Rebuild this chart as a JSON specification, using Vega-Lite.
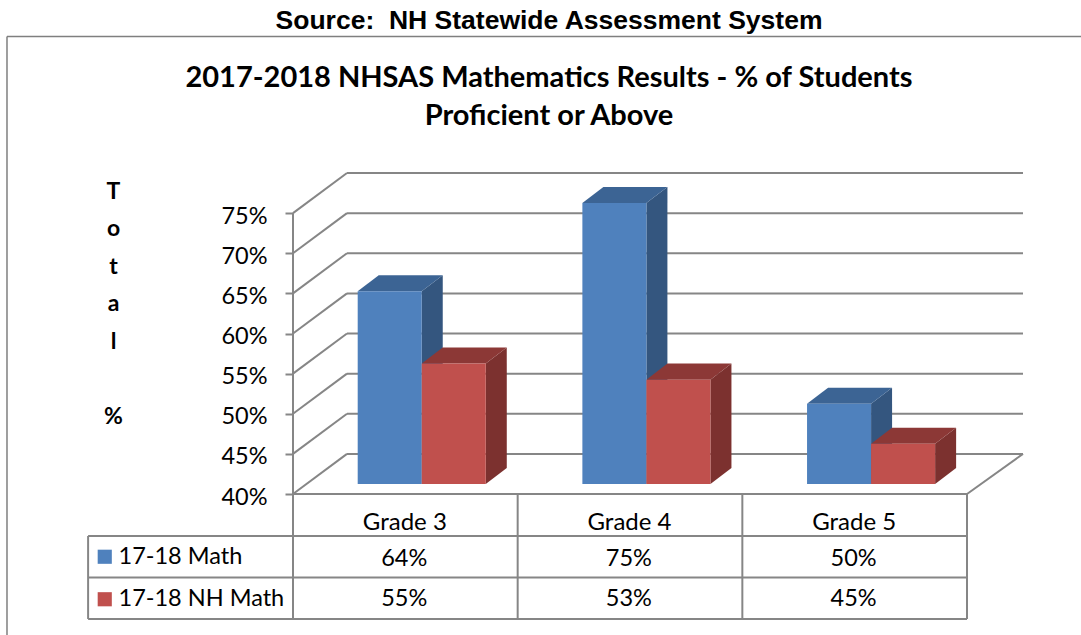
{
"$schema":"https://vega.github.io/schema/vega-lite/v6.json",
"autosize":{"type":"none"},
"padding":{"left":293,"top":173,"right":58,"bottom":141},
"width":730,"height":321,
"background":"white",
"view":{"stroke":null},
"title":{"text":"Source:\u00a0 NH Statewide Assessment System","subtitle":["2017-2018 NHSAS Mathematics Results - % of Students","Proficient or Above"],
"anchor":"start","align":"center","dx":256,"frame":"group","offset":-95,"font":"Liberation Sans","fontWeight":"bold","fontSize":26.5,"color":"#000000",
"subtitleFont":"Lato","subtitleFontWeight":"bold","subtitleFontSize":29,"subtitleColor":"#000000","subtitleLineHeight":38,"subtitlePadding":29},
"data":{"values":[
{"grade":"Grade 3","series":"17-18 Math","value":64},
{"grade":"Grade 3","series":"17-18 NH Math","value":55},
{"grade":"Grade 4","series":"17-18 Math","value":75},
{"grade":"Grade 4","series":"17-18 NH Math","value":53},
{"grade":"Grade 5","series":"17-18 Math","value":50},
{"grade":"Grade 5","series":"17-18 NH Math","value":45}
]},
"transform":[
{"calculate":"indexof(['Grade 3','Grade 4','Grade 5'],datum.grade)","as":"i"},
{"calculate":"datum.series==='17-18 Math'?0:1","as":"s"},
{"calculate":"datum.i+0.288+datum.s*0.285","as":"x0"},
{"calculate":"datum.x0+0.285","as":"x1"},
{"calculate":"datum.value+1.25","as":"top"},
{"calculate":"41.25","as":"base"}
],
"layer":[
{"data":{"values":[{"v":40},{"v":45},{"v":50},{"v":55},{"v":60},{"v":65},{"v":70},{"v":75}]},
"transform":[{"calculate":"datum.v+5","as":"back"}],
"mark":{"type":"rule","color":"#868686","strokeWidth":2},
"encoding":{"x":{"datum":0,"type":"quantitative","scale":{"domain":[0,3.2492],"nice":false,"zero":false},
"axis":{"values":[0.5,1.5,2.5],"labelExpr":"'Grade '+(datum.value+2.5)","title":null,"domain":false,"ticks":false,"grid":false,"labelFont":"Lato","labelFontSize":24,"labelColor":"#000000","labelPadding":16,"labelOffset":-1,"labelFlush":false,"labelOverlap":false}},
"x2":{"datum":0.2403},
"y":{"field":"v","type":"quantitative","scale":{"domain":[40,80],"nice":false,"zero":false},
"axis":{"values":[40,45,50,55,60,65,70,75],"labelExpr":"datum.value+'%'","title":["T","o","t","a","l","\u2800","%"],"titleFont":"Lato","titleFontWeight":"bold","titleFontSize":23,"titleColor":"#000000","titleAngle":0,"titleLineHeight":37.5,"titleX":-180,"titleY":30,"titleAlign":"center","titleAnchor":"start","domain":false,"grid":false,"tickColor":"#868686","tickWidth":2,"tickSize":8,"labelPadding":18,"labelOffset":3,"labelFont":"Lato","labelFontSize":23.5,"labelColor":"#000000","labelBaseline":"middle"}},
"y2":{"field":"back"}}},
{"data":{"values":[{"v":45},{"v":50},{"v":55},{"v":60},{"v":65},{"v":70},{"v":75},{"v":80}]},
"mark":{"type":"rule","color":"#868686","strokeWidth":2},
"encoding":{"x":{"datum":0.2403,"type":"quantitative"},"x2":{"datum":3.2492},"y":{"field":"v","type":"quantitative"}}},
{"data":{"values":[{"c":"floor"}]},
"mark":{"type":"rule","color":"#868686","strokeWidth":2},
"encoding":{"x":{"datum":3,"type":"quantitative"},"x2":{"datum":3.2492},"y":{"datum":40,"type":"quantitative"},"y2":{"datum":45}}},
{"data":{"values":[{"c":"axis"}]},
"mark":{"type":"rule","color":"#868686","strokeWidth":2},
"encoding":{"x":{"datum":0,"type":"quantitative"},"y":{"datum":24.42,"type":"quantitative"},"y2":{"datum":75}}},
{"data":{"values":[{"k":1},{"k":2},{"k":3}]},
"mark":{"type":"rule","color":"#868686","strokeWidth":2},
"encoding":{"x":{"field":"k","type":"quantitative"},"y":{"datum":24.42,"type":"quantitative"},"y2":{"datum":40}}},
{"data":{"values":[{"r":34.77},{"r":29.6},{"r":24.42}]},
"mark":{"type":"rule","color":"#868686","strokeWidth":2},
"encoding":{"x":{"datum":-0.912,"type":"quantitative"},"x2":{"datum":3},"y":{"field":"r","type":"quantitative"}}},
{"data":{"values":[{"c":"rowhead"}]},
"mark":{"type":"rule","color":"#868686","strokeWidth":2},
"encoding":{"x":{"datum":-0.912,"type":"quantitative"},"y":{"datum":24.42,"type":"quantitative"},"y2":{"datum":34.77}}},
{"data":{"values":[{"c":"floorfront"}]},
"mark":{"type":"rule","color":"#868686","strokeWidth":2},
"encoding":{"x":{"datum":0,"type":"quantitative"},"x2":{"datum":3},"y":{"datum":40,"type":"quantitative"}}},
{"data":{"values":[{"c":"frame"}]},
"mark":{"type":"rule","color":"#7f7f7f","strokeWidth":1.5},
"encoding":{"x":{"datum":-1.273,"type":"quantitative"},"x2":{"datum":3.51},"y":{"datum":97.0,"type":"quantitative"}}},
{"data":{"values":[{"c":"frame"}]},
"mark":{"type":"rule","color":"#7f7f7f","strokeWidth":1.5},
"encoding":{"x":{"datum":-1.273,"type":"quantitative"},"y":{"datum":22.4,"type":"quantitative"},"y2":{"datum":97.0}}},
{"transform":[{"calculate":"[0,1]","as":"k"},{"flatten":["k"]},
{"calculate":"datum.x1+datum.k*0.0935","as":"sx"},{"calculate":"datum.top+datum.k*2","as":"st"},{"calculate":"datum.base+datum.k*2","as":"sb"}],
"mark":{"type":"area","orient":"vertical"},
"encoding":{"x":{"field":"sx","type":"quantitative"},"y":{"field":"st","type":"quantitative"},"y2":{"field":"sb"},"detail":[{"field":"grade"},{"field":"series"}],
"color":{"condition":{"test":"datum.s===0","value":"#34567F"},"value":"#7C312F"}}},
{"transform":[{"calculate":"[0,1]","as":"k"},{"flatten":["k"]},
{"calculate":"datum.x0+datum.k*0.0935","as":"tx0"},{"calculate":"datum.x1+datum.k*0.0935","as":"tx1"},{"calculate":"datum.top+datum.k*2","as":"ty"}],
"mark":{"type":"area","orient":"horizontal"},
"encoding":{"y":{"field":"ty","type":"quantitative"},"x":{"field":"tx0","type":"quantitative"},"x2":{"field":"tx1"},"detail":[{"field":"grade"},{"field":"series"}],
"color":{"condition":{"test":"datum.s===0","value":"#3C6494"},"value":"#8C3836"}}},
{"mark":{"type":"rect"},
"encoding":{"x":{"field":"x0","type":"quantitative"},"x2":{"field":"x1"},"y":{"field":"top","type":"quantitative"},"y2":{"field":"base"},
"color":{"field":"series","type":"nominal","scale":{"domain":["17-18 Math","17-18 NH Math"],"range":["#4F81BD","#C0504D"]},
"legend":{"orient":"none","legendX":-200,"legendY":372,"title":null,"symbolType":"square","symbolSize":200,"symbolStrokeWidth":0,"labelFont":"Lato","labelFontSize":23.5,"labelColor":"#000000","labelOffset":2,"labelLimit":300,"rowPadding":17.5}}}},
{"transform":[{"calculate":"datum.i+0.495","as":"cx"},{"calculate":"datum.s===0?31.95:26.9","as":"rowy"},{"calculate":"datum.value+'%'","as":"label"}],
"mark":{"type":"text","font":"Lato","fontSize":23.5,"color":"#000000","align":"center","baseline":"middle"},
"encoding":{"x":{"field":"cx","type":"quantitative"},"y":{"field":"rowy","type":"quantitative"},"text":{"field":"label"}}}
]
}
